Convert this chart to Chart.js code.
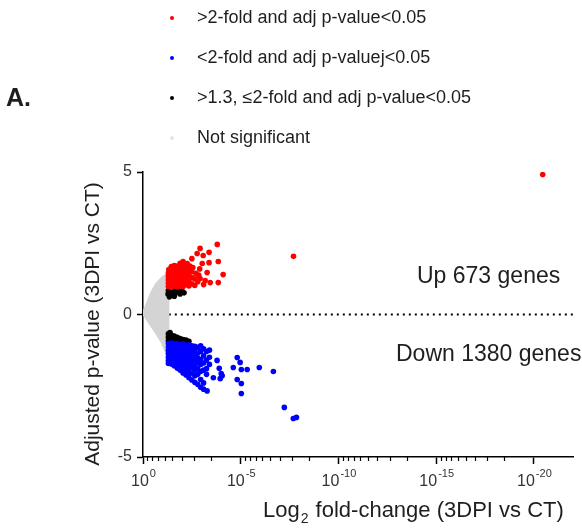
<!DOCTYPE html>
<html>
<head>
<meta charset="utf-8">
<script src="https://cdn.jsdelivr.net/npm/chart.js@4.4.1/dist/chart.umd.min.js"></script>
<style>
  body { margin: 0; background: #fff; }
  #wrap { width: 582px; height: 531px; }
</style>
</head>
<body>
<div id="wrap"><canvas id="volcano" width="582" height="531"></canvas></div>
<script>
// x = fold-change exponent (10^-x), y = adjusted p-value
const seriesLabels = [
   '>2-fold and adj p-value<0.05',
   '<2-fold and adj p-valuej<0.05',
   '>1.3, \u22642-fold and adj p-value<0.05',
   'Not significant'
];
const seriesColors = ['#ff0000', '#0000ff', '#000000', '#d4d4d4'];
const legendDotColors = ['#ff0000', '#0000ff', '#000000', '#e4e4e4'];

const upRed = [
   [1.3,0.98],[1.3,1.1],[1.3,1.22],[1.3,1.34],[1.3,1.46],[1.32,1.58],
   [1.45,0.96],[1.45,1.08],[1.45,1.2],[1.45,1.32],[1.45,1.44],[1.45,1.56],[1.45,1.68],
   [1.6,1.0],[1.6,1.12],[1.6,1.24],[1.6,1.36],[1.6,1.48],[1.6,1.6],[1.6,1.72],
   [1.75,0.97],[1.75,1.09],[1.75,1.21],[1.75,1.33],[1.75,1.45],[1.75,1.57],[1.75,1.7],
   [1.9,1.0],[1.9,1.13],[1.9,1.26],[1.9,1.4],[1.9,1.52],[1.9,1.65],[1.9,1.8],
   [2.05,0.98],[2.05,1.12],[2.05,1.28],[2.05,1.42],[2.05,1.58],[2.05,1.72],[2.05,1.86],
   [2.2,1.05],[2.2,1.2],[2.2,1.35],[2.2,1.5],[2.2,1.68],[2.26,1.79],
   [2.35,1.0],[2.35,1.18],[2.35,1.38],[2.35,1.55],[2.4,1.7],
   [2.5,1.08],[2.5,1.3],[2.5,1.5],[2.5,1.96],[2.55,1.65],
   [2.65,1.02],[2.65,1.25],[2.7,1.45],[2.77,2.14],
   [2.8,1.15],[2.85,1.38],[2.9,1.6],[2.92,2.32],[2.92,1.26],
   [3.03,1.79],[3.08,2.07],[3.1,1.05],[3.18,1.19],[3.28,1.47],
   [3.38,2.18],[3.38,1.82],[3.44,1.12],[3.8,2.46],[3.85,1.86],
   [3.85,1.12],[4.1,1.4],[7.7,2.04],[20.45,4.91]
];

const downBlue = [
   [1.3,-1.02],[1.3,-1.14],[1.3,-1.26],[1.3,-1.38],[1.3,-1.5],[1.3,-1.62],[1.3,-1.72],
   [1.45,-1.0],[1.45,-1.12],[1.45,-1.25],[1.45,-1.37],[1.45,-1.49],[1.45,-1.61],[1.45,-1.74],
   [1.6,-1.03],[1.6,-1.16],[1.6,-1.28],[1.6,-1.41],[1.6,-1.53],[1.6,-1.66],[1.6,-1.8],
   [1.75,-1.02],[1.75,-1.14],[1.75,-1.27],[1.75,-1.4],[1.75,-1.52],[1.75,-1.65],[1.75,-1.78],[1.75,-1.88],
   [1.9,-1.05],[1.9,-1.18],[1.9,-1.31],[1.9,-1.44],[1.9,-1.57],[1.9,-1.7],[1.9,-1.83],[1.9,-1.95],
   [2.05,-1.04],[2.05,-1.17],[2.05,-1.3],[2.05,-1.43],[2.05,-1.56],[2.05,-1.69],[2.05,-1.82],[2.05,-1.96],[2.05,-2.05],
   [2.2,-1.08],[2.2,-1.21],[2.2,-1.34],[2.2,-1.47],[2.2,-1.6],[2.2,-1.73],[2.2,-1.86],[2.2,-2.0],[2.2,-2.12],
   [2.35,-1.06],[2.35,-1.2],[2.35,-1.33],[2.35,-1.48],[2.35,-1.62],[2.35,-1.78],[2.35,-1.92],[2.35,-2.1],[2.35,-2.22],
   [2.5,-1.1],[2.5,-1.25],[2.5,-1.4],[2.5,-1.55],[2.5,-1.7],[2.5,-1.85],[2.5,-2.05],[2.5,-2.3],
   [2.65,-1.12],[2.65,-1.3],[2.65,-1.45],[2.65,-1.6],[2.65,-1.78],[2.65,-1.95],[2.65,-2.15],[2.65,-2.38],
   [2.8,-1.15],[2.8,-1.35],[2.8,-1.52],[2.8,-1.68],[2.8,-1.9],[2.8,-2.1],[2.8,-2.45],
   [2.95,-1.1],[2.95,-1.3],[2.95,-1.58],[2.95,-1.75],[2.95,-2.0],[2.95,-2.28],[2.95,-2.55],
   [3.1,-1.2],[3.1,-1.45],[3.1,-1.7],[3.1,-1.95],[3.1,-2.4],[3.1,-2.62],
   [3.25,-1.3],[3.25,-1.6],[3.25,-1.9],[3.25,-2.1],[3.28,-2.68],
   [3.4,-1.25],[3.4,-1.5],[3.4,-1.75],
   [3.79,-1.61],[3.9,-1.89],[4.0,-2.07],[3.95,-2.25],[4.05,-2.15],[3.6,-2.22],
   [4.62,-1.86],[4.82,-1.51],[4.97,-1.68],[5.03,-1.93],[5.33,-1.93],[5.95,-1.86],[6.67,-2.0],
   [4.82,-2.28],[5.03,-2.42],[5.03,-2.77],[7.23,-3.26],[7.69,-3.65],[7.85,-3.61]
];

const midBlack = [
   [1.28,0.72],[1.3,0.84],[1.4,0.9],[1.45,0.7],[1.55,0.85],[1.6,0.64],[1.7,0.76],
   [1.8,0.86],[1.9,0.72],[2.0,0.82],[2.1,0.76],[1.35,0.62],
   [1.3,-0.68],[1.3,-0.8],[1.3,-0.92],[1.38,-0.63],[1.45,-0.72],[1.45,-0.86],
   [1.6,-0.76],[1.6,-0.9],[1.75,-0.8],[1.75,-0.93],[1.9,-0.84],[1.9,-0.95],
   [2.05,-0.88],[2.2,-0.9],[2.35,-0.94]
];

// outline of the grey "not significant" wedge
const notSigOutline = [
   [-0.15,0],[0.05,0.22],[0.2,0.49],[0.4,0.82],[0.62,1.09],[0.9,1.3],[1.23,1.47],[1.35,1.5],
   [1.35,-1.72],[1.1,-1.3],[0.9,-0.98],[0.62,-0.67],[0.3,-0.35],[0.05,-0.08],[-0.15,0]
];

const zeroLine = [[0.4,0],[22,0]];

const xTickValues = [0, 5, 10, 15, 20];
const xTickExponents = ['0', '-5', '-10', '-15', '-20'];
const yTickValues = [-5, 0, 5];

const panelLetter = 'A.';
const yTitle = 'Adjusted p-value (3DPI vs CT)';
const xTitleParts = ['Log', '2', ' fold-change (3DPI vs CT)'];
const upText = 'Up 673 genes';
const downText = 'Down 1380 genes';

const FONT = '"Liberation Sans", Arial, sans-serif';
const TEXT = '#1e1e1e';

const toXY = arr => arr.map(p => ({ x: p[0], y: p[1] }));

const decorPlugin = {
   id: 'decor',
   afterDraw(chart) {
      const ctx = chart.ctx;
      const xs = chart.scales.x;
      ctx.save();

      // minor ticks on x axis (log-style spacing inside each 5-decade step)
      ctx.strokeStyle = '#000';
      ctx.lineWidth = 1.2;
      const bottom = chart.chartArea.bottom;
      for (let m = 0; m < 20; m += 5) {
         for (let k = 2; k <= 9; k++) {
            const px = Math.round(xs.getPixelForValue(m + 5 - 5 * Math.log10(k))) + 0.5;
            ctx.beginPath();
            ctx.moveTo(px, bottom);
            ctx.lineTo(px, bottom + 4);
            ctx.stroke();
         }
      }

      // x tick labels 10^n
      ctx.fillStyle = '#333';
      ctx.textBaseline = 'alphabetic';
      xTickValues.forEach((v, i) => {
         const px = xs.getPixelForValue(v);
         ctx.font = '16px ' + FONT;
         const wb = ctx.measureText('10').width;
         ctx.font = '11px ' + FONT;
         const we = ctx.measureText(xTickExponents[i]).width;
         const x0 = px - (wb + we) / 2;
         ctx.font = '16px ' + FONT;
         ctx.textAlign = 'left';
         ctx.fillText('10', x0, 486);
         ctx.font = '11px ' + FONT;
         ctx.fillText(xTickExponents[i], x0 + wb + 1, 477);
      });

      // x title with subscript
      ctx.fillStyle = TEXT;
      let tx = 263;
      ctx.font = '22px ' + FONT;
      ctx.fillText(xTitleParts[0], tx, 517);
      tx += ctx.measureText(xTitleParts[0]).width;
      ctx.font = '14px ' + FONT;
      ctx.fillText(xTitleParts[1], tx + 1, 523);
      tx += ctx.measureText(xTitleParts[1]).width + 2;
      ctx.font = '22px ' + FONT;
      ctx.fillText(xTitleParts[2], tx, 517);

      // y title
      ctx.save();
      ctx.translate(93, 324);
      ctx.rotate(-Math.PI / 2);
      ctx.textAlign = 'center';
      ctx.textBaseline = 'middle';
      ctx.font = '21px ' + FONT;
      ctx.fillText(yTitle, 0, 0);
      ctx.restore();

      // annotations
      ctx.textAlign = 'left';
      ctx.textBaseline = 'middle';
      ctx.font = '23px ' + FONT;
      ctx.fillText(upText, 417, 277);
      ctx.fillText(downText, 396, 355);

      // panel letter
      ctx.font = 'bold 25px ' + FONT;
      ctx.fillText(panelLetter, 6, 99);

      // legend
      ctx.font = '18px ' + FONT;
      seriesLabels.forEach((lab, i) => {
         const y = 18 + i * 40;
         ctx.fillStyle = legendDotColors[i];
         ctx.beginPath();
         ctx.arc(172, y, 2, 0, Math.PI * 2);
         ctx.fill();
         ctx.fillStyle = TEXT;
         ctx.fillText(lab, 197, y);
      });
      ctx.restore();
   }
};

const pointStyle = (data, color, label) => ({
   label: label,
   data: toXY(data),
   backgroundColor: color,
   borderWidth: 0,
   pointRadius: 2.8,
   pointHoverRadius: 2.8,
   showLine: false
});

new Chart(document.getElementById('volcano').getContext('2d'), {
   type: 'scatter',
   data: {
      datasets: [
         pointStyle(upRed, seriesColors[0], seriesLabels[0]),
         pointStyle(downBlue, seriesColors[1], seriesLabels[1]),
         pointStyle(midBlack, seriesColors[2], seriesLabels[2]),
         {
            label: seriesLabels[3],
            data: toXY(notSigOutline),
            showLine: true,
            fill: 'shape',
            backgroundColor: seriesColors[3],
            borderWidth: 0,
            borderColor: seriesColors[3],
            pointRadius: 0,
            tension: 0,
            clip: false
         },
         {
            label: 'zero',
            data: toXY(zeroLine),
            showLine: true,
            fill: false,
            borderColor: '#000',
            borderWidth: 2,
            borderDash: [2, 4],
            pointRadius: 0
         }
      ]
   },
   options: {
      responsive: false,
      animation: false,
      layout: { padding: { top: 172, right: 9, bottom: 0, left: 0 } },
      plugins: { legend: { display: false }, tooltip: { enabled: false } },
      scales: {
         x: {
            type: 'linear',
            min: 0,
            max: 22,
            afterBuildTicks: axis => { axis.ticks = xTickValues.map(v => ({ value: v })); },
            afterFit: axis => { axis.height = 74; },
            grid: { drawOnChartArea: false, drawTicks: true, tickLength: 7, tickColor: '#000', tickWidth: 1.5 },
            border: { color: '#000', width: 1.5 },
            ticks: { callback: () => '', autoSkip: false, maxRotation: 0 }
         },
         y: {
            min: -5,
            max: 5,
            afterBuildTicks: axis => { axis.ticks = yTickValues.map(v => ({ value: v })); },
            afterFit: axis => { axis.width = 143; },
            grid: { drawOnChartArea: false, drawTicks: true, tickLength: 6, tickColor: '#000', tickWidth: 1.5 },
            border: { color: '#000', width: 1.5 },
            ticks: { font: { size: 16, family: FONT }, color: '#333', padding: 5 }
         }
      }
   },
   plugins: [decorPlugin]
});
</script>
</body>
</html>
